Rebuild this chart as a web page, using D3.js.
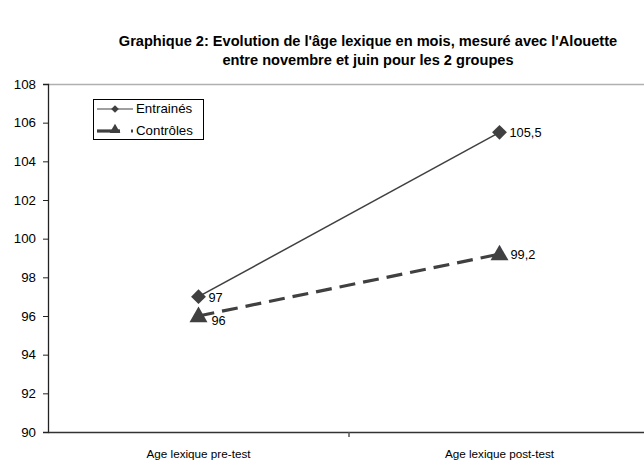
<!DOCTYPE html>
<html><head><meta charset="utf-8">
<script src="https://cdn.jsdelivr.net/npm/d3@7"></script>
<style>body{margin:0;background:#fff}svg{display:block}text{font-family:"Liberation Sans",Arial,sans-serif}</style>
</head><body><svg id="c" width="644" height="469"></svg>
<script>
const categories = ["Age lexique pre-test", "Age lexique post-test"];
const entraines = [97, 105.5];
const controles = [96, 99.2];
const entrainesLabels = ["97", "105,5"];
const controlesLabels = ["96", "99,2"];
const yTicks = [90, 92, 94, 96, 98, 100, 102, 104, 106, 108];
const seriesNames = ["Entrainés", "Contrôles"];
const titleLines = ["Graphique 2: Evolution de l'âge lexique en mois, mesuré avec l'Alouette", "entre novembre et juin pour les 2 groupes"];

const svg = d3.select("#c");
const L = 48, R = 650, T = 84, B = 432;
const x = d3.scaleBand().domain(categories).range([L, R]);
const y = d3.scaleLinear().domain([90, 108]).range([B, T]);
const cx = d => x(d) + x.bandwidth() / 2;
const col = "#404040";
const FONT = "Liberation Sans, Arial, sans-serif";

// title
svg.selectAll("text.title").data(titleLines).join("text")
  .attr("x", 368).attr("y", (d, i) => 46 + i * 19)
  .attr("text-anchor", "middle").attr("font-size", 14.6).attr("font-weight", "bold")
  .attr("fill", "#000").text(d => d);

// top border line
svg.append("line").attr("x1", L).attr("x2", 644).attr("y1", T + 0.5).attr("y2", T + 0.5)
  .attr("stroke", "#b0b0b0").attr("stroke-width", 1.5);

// y axis
const ya = svg.append("g").attr("transform", `translate(${L},0)`)
  .call(d3.axisLeft(y).tickValues(yTicks).tickSize(5).tickPadding(7).tickFormat(d3.format("d")));
ya.select(".domain").attr("stroke", "#222").attr("stroke-width", 1.3);
ya.selectAll(".tick line").attr("stroke", "#222");
ya.selectAll("text").attr("font-size", 13.3).attr("fill", "#000").attr("font-family", FONT);

// x axis
const xa = svg.append("g").attr("transform", `translate(0,${B})`)
  .call(d3.axisBottom(x).tickSize(0).tickPadding(18));
xa.select(".domain").attr("stroke", "#333").attr("stroke-width", 1.5);
xa.selectAll("text").attr("font-size", 11.7).attr("fill", "#000").attr("font-family", FONT);
svg.append("line").attr("x1", x(categories[1])).attr("x2", x(categories[1]))
  .attr("y1", B).attr("y2", B + 5).attr("stroke", "#555").attr("stroke-width", 1.5);

// lines
const line = d3.line().x((d, i) => cx(categories[i])).y(d => y(d));
svg.append("path").datum(entraines).attr("d", line).attr("fill", "none")
  .attr("stroke", col).attr("stroke-width", 1.5);
svg.append("path").datum(controles).attr("d", line).attr("fill", "none")
  .attr("stroke", col).attr("stroke-width", 3.2).attr("stroke-dasharray", "16,8");

const square = d3.symbol().type(d3.symbolSquare).size(110);
const tri = d3.symbol().type(d3.symbolTriangle).size(140);
svg.selectAll("path.m1").data(entraines).join("path")
  .attr("transform", (d, i) => `translate(${cx(categories[i])},${y(d)}) rotate(45)`)
  .attr("d", square).attr("fill", col);
svg.selectAll("path.m2").data(controles).join("path")
  .attr("transform", (d, i) => `translate(${cx(categories[i])},${y(d) + 1})`)
  .attr("d", tri).attr("fill", col);

// data labels
svg.selectAll("text.l1").data(entraines).join("text")
  .attr("x", (d, i) => cx(categories[i]) + 10).attr("y", d => y(d) + 5)
  .attr("font-size", 12.8).attr("fill", "#000").text((d, i) => entrainesLabels[i]);
svg.selectAll("text.l2").data(controles).join("text")
  .attr("x", (d, i) => cx(categories[i]) + (i === 0 ? 13 : 11)).attr("y", (d, i) => y(d) + (i === 0 ? 9 : 5))
  .attr("font-size", 12.8).attr("fill", "#000").text((d, i) => controlesLabels[i]);

// legend
const lg = svg.append("g");
lg.append("rect").attr("x", 93.5).attr("y", 99.5).attr("width", 110).attr("height", 40)
  .attr("fill", "#fff").attr("stroke", "#000").attr("stroke-width", 1);
lg.append("line").attr("x1", 97).attr("x2", 133).attr("y1", 109).attr("y2", 109).attr("stroke", col).attr("stroke-width", 1.2);
lg.append("path").attr("transform", "translate(115,109) rotate(45)").attr("d", d3.symbol().type(d3.symbolSquare).size(30)).attr("fill", col);
lg.append("line").attr("x1", 97).attr("x2", 120).attr("y1", 131).attr("y2", 131).attr("stroke", col).attr("stroke-width", 3.2);
lg.append("path").attr("transform", "translate(115,130)").attr("d", d3.symbol().type(d3.symbolTriangle).size(50)).attr("fill", col);
lg.append("line").attr("x1", 131).attr("x2", 133).attr("y1", 131).attr("y2", 131).attr("stroke", col).attr("stroke-width", 3.2);
lg.selectAll("text").data(seriesNames).join("text")
  .attr("x", 136).attr("y", (d, i) => 113 + i * 22).attr("font-size", 13.3).attr("fill", "#000").text(d => d);
</script></body></html>
